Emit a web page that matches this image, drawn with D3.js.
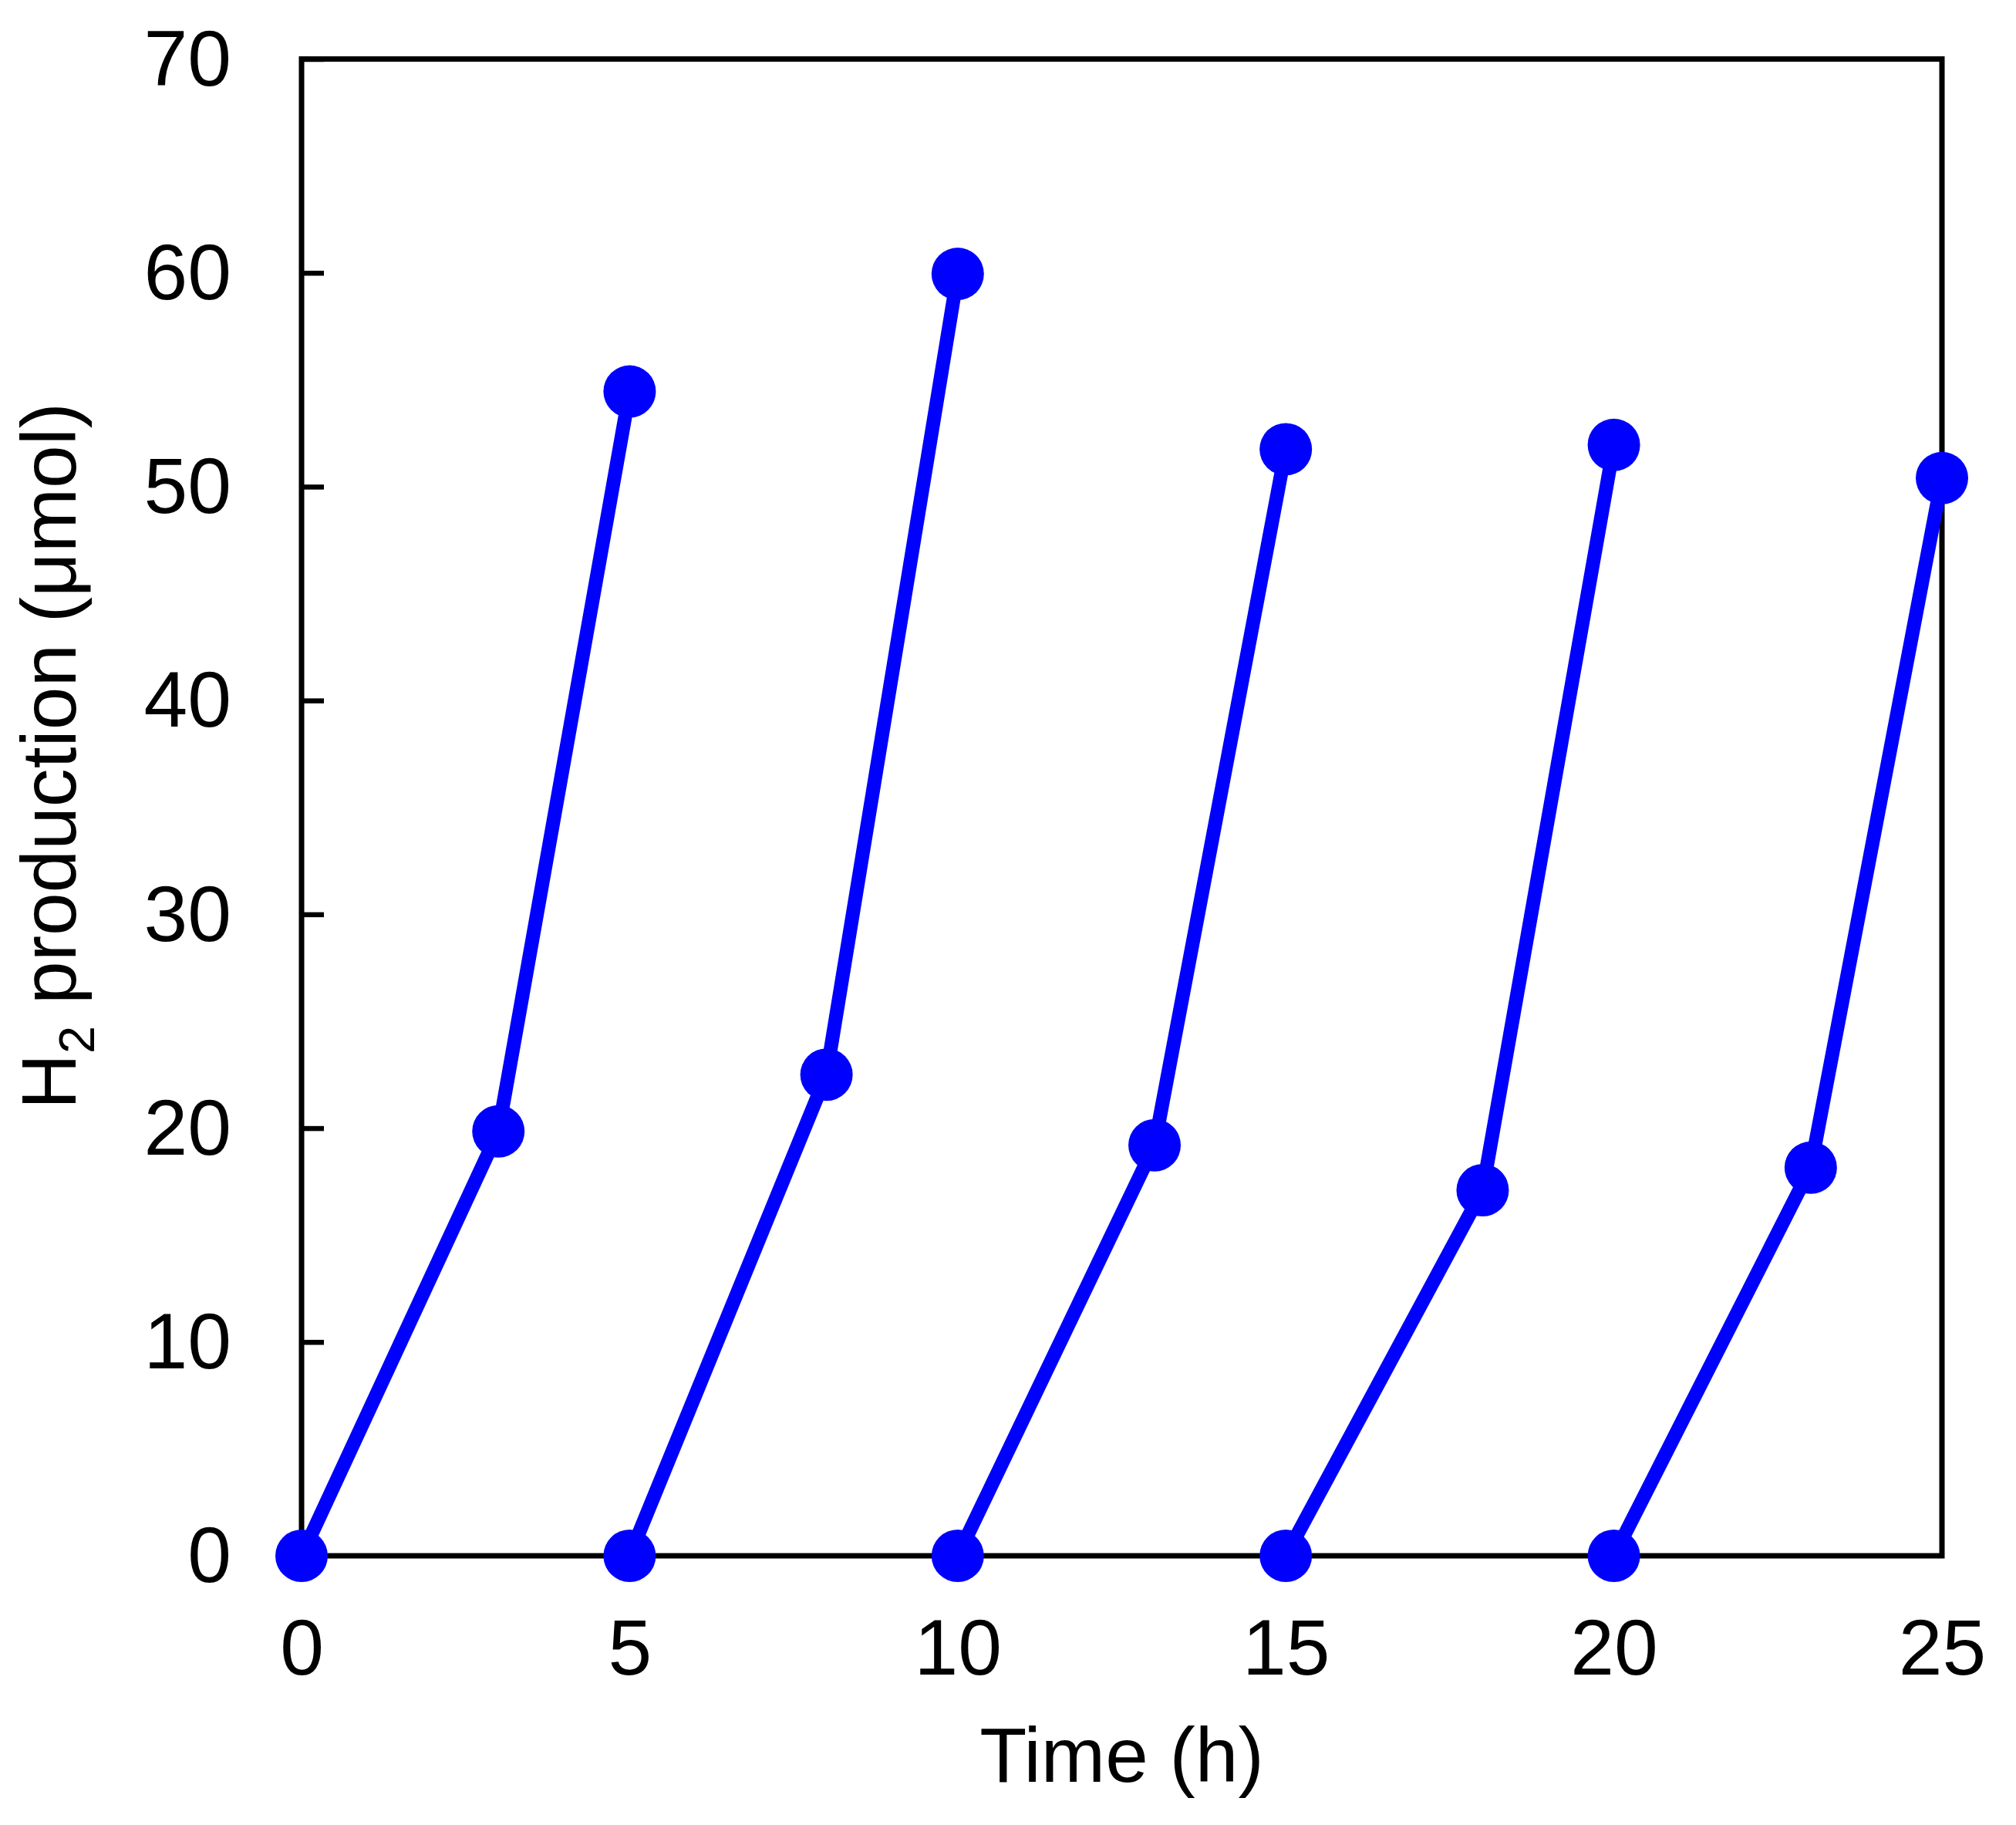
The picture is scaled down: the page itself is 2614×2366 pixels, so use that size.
<!DOCTYPE html>
<html>
<head>
<meta charset="utf-8">
<script src="https://cdn.jsdelivr.net/npm/d3@7"></script>
<style>
  html, body { margin: 0; padding: 0; background: #ffffff; }
  svg { display: block; }
  text { font-family: "Liberation Sans", Arial, Helvetica, sans-serif; fill: #000; }
</style>
</head>
<body>
<svg id="chart" width="2614" height="2366"></svg>
<script>
// ---- data ----
const cycles = [1, 2, 3, 4, 5];
const cycleTimes = [
  [0, 3, 5],
  [5, 8, 10],
  [10, 13, 15],
  [15, 18, 20],
  [20, 23, 25]
];
const cycleH2 = [
  [0, 19.85, 54.45],
  [0, 22.5, 59.95],
  [0, 19.2, 51.75],
  [0, 17.1, 51.95],
  [0, 18.15, 50.4]
];
const xTicks = [0, 5, 10, 15, 20, 25];
const yTicks = [0, 10, 20, 30, 40, 50, 60, 70];
const xTitle = "Time (h)";
const yTitleMain = "H";
const yTitleSub = "2";
const yTitleRest = " production (μmol)";

// ---- layout ----
const plotL = 391, plotR = 2518, plotT = 76.5, plotB = 2017;
const blue = "#0000FF";

const svg = d3.select("#chart");

const x = d3.scaleLinear().domain([0, 25]).range([plotL, plotR]);
const y = d3.scaleLinear().domain([0, 70]).range([plotB, plotT]);

// frame
svg.append("rect")
  .attr("x", plotL).attr("y", plotT)
  .attr("width", plotR - plotL).attr("height", plotB - plotT)
  .attr("fill", "none").attr("stroke", "#000").attr("stroke-width", 7)
  .attr("stroke-linejoin", "miter");

// y axis (inward ticks)
const yAxis = svg.append("g")
  .attr("transform", `translate(${plotL},0)`)
  .call(d3.axisLeft(y).tickValues(yTicks).tickFormat(d3.format("d")).tickSize(0));
yAxis.select(".domain").remove();
yAxis.selectAll(".tick line")
  .attr("x1", 0).attr("x2", 29)
  .attr("stroke", "#000").attr("stroke-width", 6.5);
yAxis.selectAll(".tick text")
  .attr("x", 300 - plotL)
  .attr("dy", "0.33em")
  .attr("text-anchor", "end")
  .style("font-size", "102px")
  .style("font-family", "'Liberation Sans', Arial, sans-serif")
  .attr("fill", "#000");

// x axis (labels only)
const xAxis = svg.append("g")
  .attr("transform", `translate(0,${plotB})`)
  .call(d3.axisBottom(x).tickValues(xTicks).tickFormat(d3.format("d")).tickSize(0));
xAxis.select(".domain").remove();
xAxis.selectAll(".tick line").remove();
xAxis.selectAll(".tick text")
  .attr("y", 2171 - plotB)
  .attr("dy", 0)
  .attr("text-anchor", "middle")
  .style("font-size", "102px")
  .style("font-family", "'Liberation Sans', Arial, sans-serif")
  .attr("fill", "#000");

// axis titles
svg.append("text")
  .attr("x", (plotL + plotR) / 2)
  .attr("y", 2310)
  .attr("text-anchor", "middle")
  .style("font-size", "100px")
  .text(xTitle);

const yt = svg.append("text")
  .attr("transform", "translate(98,980) rotate(-90)")
  .attr("text-anchor", "middle")
  .style("font-size", "100px");
yt.append("tspan").text(yTitleMain);
yt.append("tspan").attr("dy", 24).style("font-size", "65px").text(yTitleSub);
yt.append("tspan").attr("dy", -24).text(yTitleRest);

// lines
const line = d3.line().x(d => x(d[0])).y(d => y(d[1]));
const series = cycles.map((c, i) => cycleTimes[i].map((t, j) => [t, cycleH2[i][j]]));

svg.append("g").selectAll("path")
  .data(series)
  .join("path")
  .attr("d", line)
  .attr("fill", "none")
  .attr("stroke", blue)
  .attr("stroke-width", 18)
  .attr("stroke-linejoin", "round");

// markers
svg.append("g").selectAll("circle")
  .data(series.flat())
  .join("circle")
  .attr("cx", d => x(d[0]))
  .attr("cy", d => y(d[1]))
  .attr("r", 34)
  .attr("fill", blue);
</script>
</body>
</html>
